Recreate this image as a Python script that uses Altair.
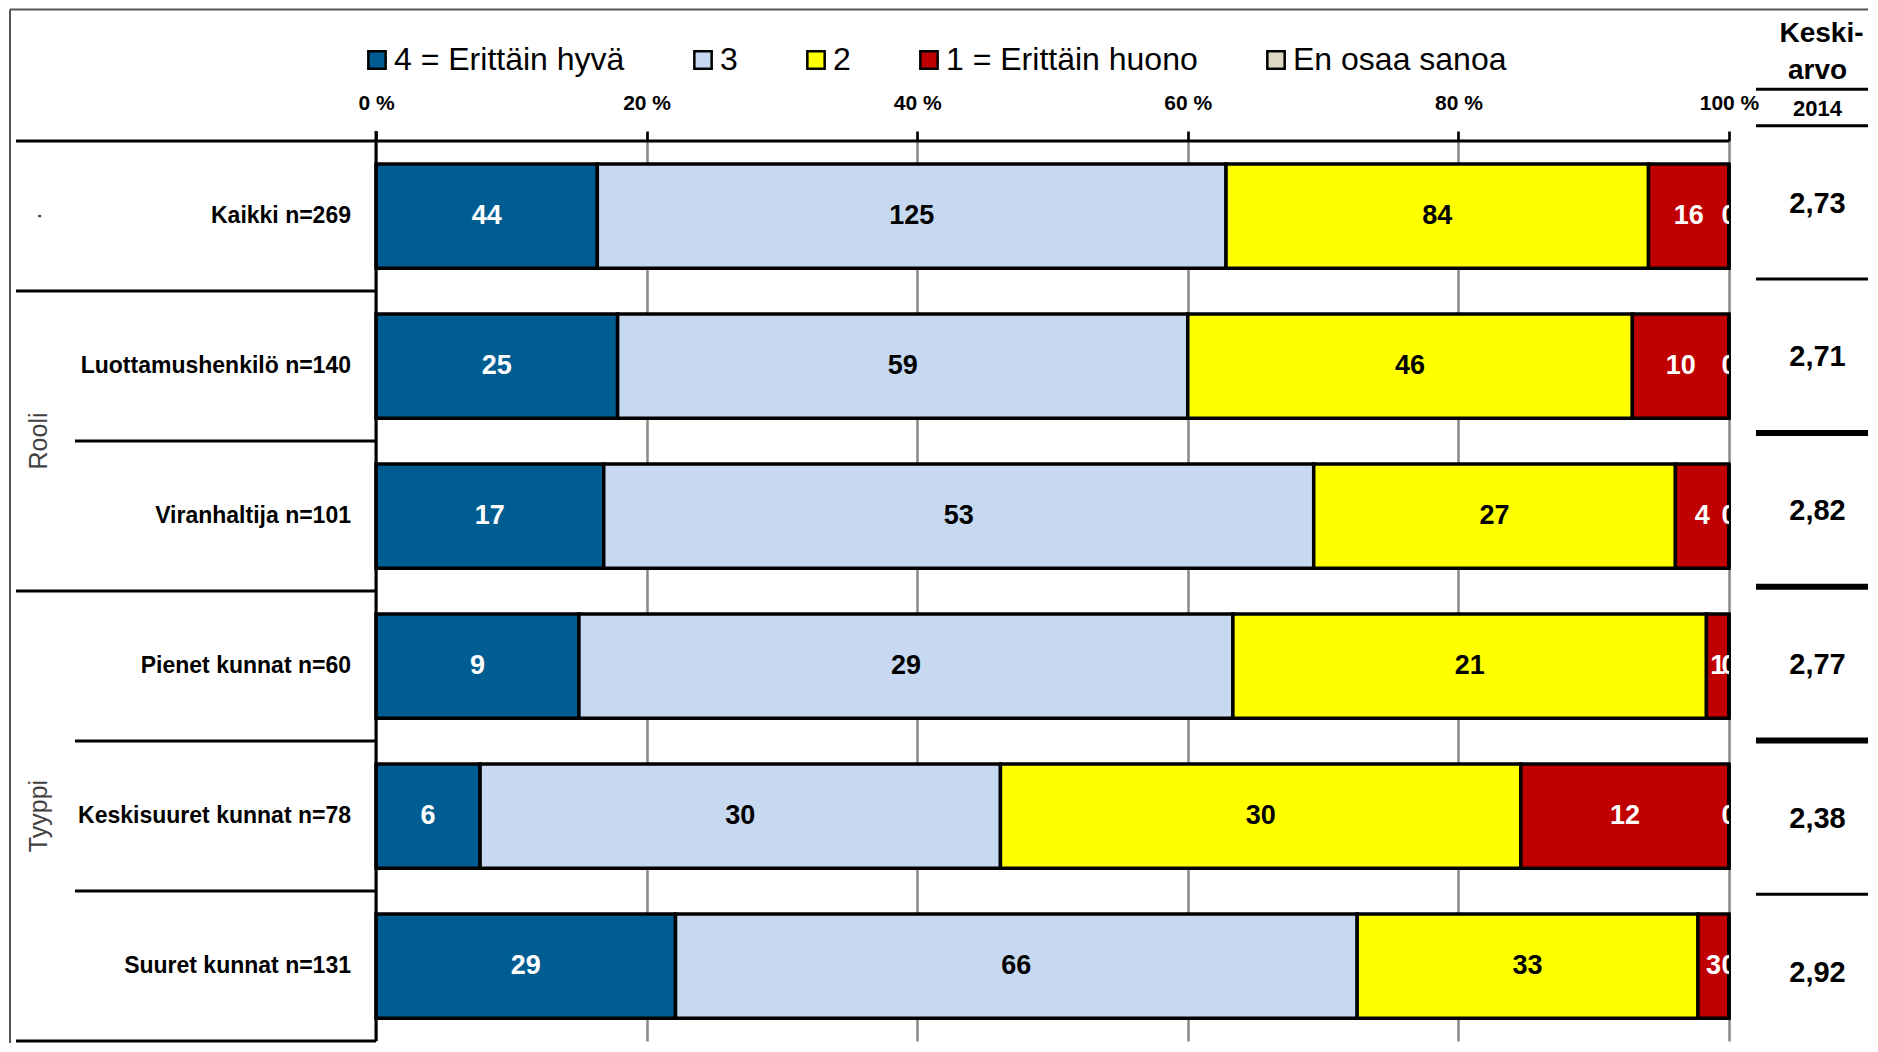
import altair as alt
import pandas as pd

# ---------------- data ----------------
categories = ["Kaikki n=269", "Luottamushenkilö n=140", "Viranhaltija n=101",
              "Pienet kunnat n=60", "Keskisuuret kunnat n=78", "Suuret kunnat n=131"]
answers = ["4 = Erittäin hyvä", "3", "2", "1 = Erittäin huono", "En osaa sanoa"]
counts_4 = [44, 25, 17, 9, 6, 29]
counts_3 = [125, 59, 53, 29, 30, 66]
counts_2 = [84, 46, 27, 21, 30, 33]
counts_1 = [16, 10, 4, 1, 12, 3]
counts_eos = [0, 0, 0, 0, 0, 0]
means_2014 = ["2,73", "2,71", "2,82", "2,77", "2,38", "2,92"]
group_names = ["·", "Rooli", "Tyyppi"]
group_anchor = [categories[0], categories[1], categories[4]]
colors = ["#005D92", "#C6D9F1", "#FFFF00", "#C00000", "#DDD9C3"]
axis_ticks = [0, 0.2, 0.4, 0.6, 0.8, 1.0]

series = [counts_4, counts_3, counts_2, counts_1, counts_eos]
rows = []
for i, c in enumerate(categories):
    for j, a in enumerate(answers):
        rows.append({"cat": c, "answer": a, "order": j, "count": series[j][i]})
df = pd.DataFrame(rows)
cat_df = pd.DataFrame({"cat": categories, "mean": means_2014})
one = pd.DataFrame({"a": [0]})

W, H = 1353, 900
FONT = "Liberation Sans"

yscale = alt.Scale(domain=categories, paddingInner=0.305, paddingOuter=0.1525)
Y = alt.Y("cat:N", scale=yscale, axis=None)

base = alt.Chart(df).transform_stack(
    stack="count", groupby=["cat"], sort=[alt.SortField("order", order="ascending")],
    as_=["x0", "x1"], offset="normalize"
).transform_calculate(mid="(datum.x0 + datum.x1) / 2")

xaxis = alt.Axis(orient="top", values=axis_ticks, labelExpr="round(datum.value*100) + ' %'",
                 grid=True, gridColor="#888888", gridWidth=2.5, tickColor="black",
                 tickSize=10, tickWidth=2.7, domain=False, labelFontSize=21,
                 labelFontWeight="bold", labelColor="black", labelPadding=18,
                 labelFlush=False, labelOverlap=False, title=None)

bars = base.mark_bar(stroke="black", strokeWidth=3.5).encode(
    x=alt.X("x0:Q", scale=alt.Scale(domain=[0, 1], nice=False), axis=xaxis),
    x2="x1:Q",
    y=Y,
    color=alt.Color("answer:N", scale=alt.Scale(domain=answers, range=colors),
                    legend=alt.Legend(orient="none", legendX=-15, legendY=-97,
                                      direction="horizontal", columns=5, title=None,
                                      symbolType="square", symbolSize=300,
                                      symbolStrokeColor="black", symbolStrokeWidth=2.5,
                                      labelFontSize=32, labelColor="black",
                                      columnPadding=62, labelOffset=1, padding=0,
                                      labelLimit=0)),
)

values = base.mark_text(clip=True, fontSize=27, fontWeight="bold", baseline="middle").encode(
    x="mid:Q",
    y=Y,
    text="count:Q",
    color=alt.condition(alt.FieldOneOfPredicate(field="answer", oneOf=["3", "2"]),
                        alt.value("black"), alt.value("white")),
)

cat_labels = alt.Chart(cat_df).mark_text(align="right", baseline="middle", fontSize=23,
                                         fontWeight="bold", color="black").encode(
    x=alt.value(-25), y=Y, text="cat:N")

grp_df = pd.DataFrame({"cat": group_anchor, "g": group_names})
grp_mid = alt.Chart(grp_df).transform_filter(
    alt.FieldOneOfPredicate(field="g", oneOf=[group_names[0], group_names[2]])
).mark_text(angle=270, fontSize=25, color="#404040", baseline="middle").encode(
    x=alt.value(-337), y=Y, text="g:N")
grp_between = alt.Chart(grp_df).transform_filter(
    alt.FieldEqualPredicate(field="g", equal=group_names[1])
).mark_text(angle=270, fontSize=25, color="#404040", baseline="middle", yOffset=75).encode(
    x=alt.value(-337), y=Y, text="g:N")

sep_full = alt.Chart(cat_df).transform_filter(
    alt.FieldOneOfPredicate(field="cat", oneOf=[categories[0], categories[2], categories[5]])
).mark_rule(color="black", strokeWidth=3, yOffset=75).encode(
    x=alt.value(-360), x2=alt.value(0), y=Y)
sep_part = alt.Chart(cat_df).transform_filter(
    alt.FieldOneOfPredicate(field="cat", oneOf=[categories[1], categories[3], categories[4]])
).mark_rule(color="black", strokeWidth=3, yOffset=75).encode(
    x=alt.value(-301), x2=alt.value(0), y=Y)

header_rule = alt.Chart(one).mark_rule(color="black", strokeWidth=3).encode(
    x=alt.value(-360), x2=alt.value(W), y=alt.value(0))
zero_rule = alt.Chart(one).mark_rule(color="black", strokeWidth=3).encode(
    x=alt.datum(0), y=alt.value(-10), y2=alt.value(H))
frame_top = alt.Chart(one).mark_rule(color="#555555", strokeWidth=2).encode(
    x=alt.value(-366), x2=alt.value(W + 200), y=alt.value(-131.5))
frame_left = alt.Chart(one).mark_rule(color="#555555", strokeWidth=2).encode(
    x=alt.value(-366), y=alt.value(-131.5), y2=alt.value(H + 20))

main = alt.layer(header_rule, sep_full, sep_part, bars, values, cat_labels,
                 grp_mid, grp_between, zero_rule, frame_top, frame_left)

# ---- right column: Keskiarvo 2014 ----
RX = 1441.5
ry = alt.Scale(type="point", domain=categories, range=[62.6, 831.6], padding=0)
RY = alt.Y("cat:N", scale=ry, axis=None)
r_vals = alt.Chart(cat_df).mark_text(fontSize=29, fontWeight="bold", baseline="middle",
                                     color="black").encode(
    x=alt.value(RX), y=RY, text="mean:N")
r_thin = alt.Chart(cat_df).transform_filter(
    alt.FieldOneOfPredicate(field="cat", oneOf=[categories[0], categories[4], categories[5]])
).mark_rule(color="black", strokeWidth=3, yOffset=75.5).encode(
    x=alt.value(1380), x2=alt.value(1520), y=RY)
r_thick = alt.Chart(cat_df).transform_filter(
    alt.FieldOneOfPredicate(field="cat", oneOf=[categories[1], categories[2], categories[3]])
).mark_rule(color="black", strokeWidth=6, yOffset=75.5).encode(
    x=alt.value(1380), x2=alt.value(1520), y=RY)
h1 = alt.Chart(one).mark_text(text="Keski-", fontSize=28, fontWeight="bold",
                              baseline="alphabetic", color="black").encode(
    x=alt.value(RX + 4), y=alt.value(-99))
h2 = alt.Chart(one).mark_text(text="arvo", fontSize=28, fontWeight="bold",
                              baseline="alphabetic", color="black").encode(
    x=alt.value(RX), y=alt.value(-62.5))
h3 = alt.Chart(one).mark_text(text="2014", fontSize=22, fontWeight="bold",
                              baseline="middle", color="black").encode(
    x=alt.value(RX), y=alt.value(-32.5))
hl1 = alt.Chart(one).mark_rule(color="black", strokeWidth=3).encode(
    x=alt.value(1380), x2=alt.value(1520), y=alt.value(-51.7))
hl2 = alt.Chart(one).mark_rule(color="black", strokeWidth=3).encode(
    x=alt.value(1380), x2=alt.value(1520), y=alt.value(-15.3))

right = alt.layer(r_thin, r_thick, r_vals, h1, h2, h3, hl1, hl2)

chart = alt.layer(main, right).resolve_scale(y="independent").properties(
    width=W, height=H,
    autosize=alt.AutoSizeParams(type="none"),
    padding={"left": 368, "top": 133, "right": 139, "bottom": 2},
    background="white",
).configure(font=FONT).configure_view(stroke=None)

chart.save("out.html", embed_options={"renderer": "svg", "actions": False})
